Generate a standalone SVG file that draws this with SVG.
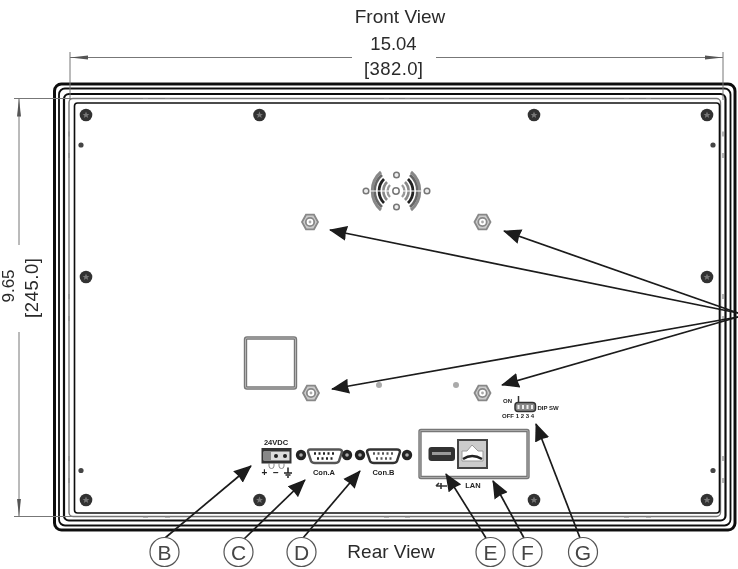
<svg xmlns="http://www.w3.org/2000/svg" width="738" height="569" viewBox="0 0 738 569">
<style>
text{font-family:"Liberation Sans",Arial,sans-serif;fill:#2a2a2a}
.lbl{font-size:19px}
.dim{font-size:18.500px}
.tiny{font-size:7.500px;font-weight:bold;fill:#222;text-anchor:middle}
.micro{font-size:6px;font-weight:bold;fill:#222;text-anchor:middle}
.f{fill:none;stroke:#111}
.g{fill:none;stroke:#777}
.dl{stroke:#777;stroke-width:1;fill:none}
.conn{stroke:#1a1a1a;stroke-width:1.700;fill:none;marker-end:url(#ah)}
.call circle{fill:#fff;stroke:#555;stroke-width:1.200}
.call text{font-size:21px;text-anchor:middle;fill:#444}
.tk{stroke:#888;stroke-width:1.200}
</style>
<defs>
<filter id="b" x="0" y="0" width="1" height="1" filterUnits="objectBoundingBox"><feGaussianBlur stdDeviation="0.55"/></filter>
<marker id="ah" markerUnits="userSpaceOnUse" markerWidth="20" markerHeight="16" viewBox="0 0 20 16" refX="17" refY="8" orient="auto"><path d="M0,0.500L18,8L0,15.500L1,8Z" fill="#1a1a1a"/></marker>
<marker id="dh" markerUnits="userSpaceOnUse" markerWidth="20" markerHeight="6" viewBox="0 0 20 6" refX="18" refY="3" orient="auto"><path d="M0,1L18,3L0,5Z" fill="#555"/></marker>
<g id="screw"><circle r="6.300" fill="#333"/><path d="M0,-3.500L1,-1L3.400,-1L1.500,.6L2.200,3L0,1.600L-2.200,3L-1.500,.6L-3.400,-1L-1,-1Z" fill="#777"/></g>
<g id="stand"><path d="M-8,0L-4,-7.300L4,-7.300L8,0L4,7.300L-4,7.300Z" fill="#ccc" stroke="#888" stroke-width="1.800"/><circle r="4.200" fill="#fff" stroke="#888" stroke-width="1.800"/><circle r="1.400" fill="#aaa"/></g>
<g id="port"><circle r="5.200" fill="#222"/><circle r="1.800" fill="#aaa"/></g>
<g id="hole"><circle r="2.800" fill="#eee" stroke="#777" stroke-width="1.500"/></g>
</defs>
<rect width="738" height="569" fill="#fff"/>
<g filter="url(#b)">
<g id="frame">
<rect class="f" x="54.500" y="84" width="680.500" height="446" rx="7" stroke-width="3"/>
<rect class="f" x="59" y="88.500" width="671.500" height="437" rx="6" stroke-width="1.800"/>
<rect class="f" x="64" y="94" width="661.500" height="426.500" rx="5" stroke-width="2.200"/>
<rect class="g" x="69" y="98.500" width="651.500" height="418" rx="4" stroke-width="1.400"/>
<rect class="f" x="74.500" y="103" width="645" height="410" rx="3" stroke="#333" stroke-width="1.600"/>
<path class="tk" d="M143,98.500h5M165,98.500h5M384,98.500h5M405,98.500h5M624,98.500h5M646,98.500h5M143,517h5M165,517h5M384,517h5M405,517h5M624,517h5M646,517h5M69,131.500v5M69,153v5M69,294v5M69,316v5M69,456v5M69,478v5M723,131.500v5M723,153v5M723,294v5M723,316v5M723,456v5M723,478v5"/>
</g>
<g id="dimensions">
<path class="dl" d="M70,52V100M723,52V100M14,98.500H72M14,516.500H72"/>
<path class="dl" d="M352,57.500H70" marker-end="url(#dh)"/>
<path class="dl" d="M436,57.500H723" marker-end="url(#dh)"/>
<path class="dl" d="M19,245V98.500" marker-end="url(#dh)"/>
<path class="dl" d="M19,332V516.500" marker-end="url(#dh)"/>
<text class="dim" x="393.500" y="50" text-anchor="middle">15.04</text>
<text class="dim" x="393.500" y="75" text-anchor="middle" textLength="59">[382.0]</text>
<text class="dim" transform="translate(14,286) rotate(-90)" text-anchor="middle" style="font-size:17px">9.65</text>
<text class="dim" transform="translate(38,288) rotate(-90)" text-anchor="middle" textLength="60">[245.0]</text>
</g>
<text id="title-front" class="lbl" x="400" y="23" text-anchor="middle">Front View</text>
<text id="title-rear" class="lbl" x="391" y="558" text-anchor="middle">Rear View</text>
<g id="screws">
<use href="#screw" x="86" y="115"/><use href="#screw" x="259.500" y="115"/><use href="#screw" x="534" y="115"/><use href="#screw" x="707" y="115"/>
<use href="#screw" x="86" y="277"/><use href="#screw" x="707" y="277"/>
<use href="#screw" x="86" y="500"/><use href="#screw" x="259.500" y="500"/><use href="#screw" x="534" y="500"/><use href="#screw" x="707" y="500"/>
<circle cx="81" cy="145" r="2.600" fill="#444"/><circle cx="713" cy="145" r="2.600" fill="#444"/><circle cx="81" cy="470.500" r="2.600" fill="#444"/><circle cx="713" cy="470.500" r="2.600" fill="#444"/>
<circle cx="379" cy="385" r="3" fill="#aaa"/><circle cx="456" cy="385" r="3" fill="#aaa"/>
</g>
<g id="standoffs">
<use href="#stand" x="310" y="222"/><use href="#stand" x="482.500" y="222"/><use href="#stand" x="311" y="393"/><use href="#stand" x="482.500" y="393"/>
</g>
<g id="speaker" fill="none" stroke="#555">
<path stroke-width="2.400" stroke="#999" d="M390,185A8.500,8.500 0 0 0 390,197M402,185A8.500,8.500 0 0 1 402,197"/>
<path stroke-width="2.600" stroke="#888" d="M387,182A13,13 0 0 0 387,200M405,182A13,13 0 0 1 405,200"/>
<path stroke-width="2.800" stroke="#222" d="M384,179A17,17 0 0 0 384,203M408,179A17,17 0 0 1 408,203"/>
<path stroke-width="2.800" stroke="#666" d="M382,175A21,21 0 0 0 382,207M410,175A21,21 0 0 1 410,207"/>
<path stroke-width="3" stroke="#888" d="M381,172A25,25 0 0 0 381,210M411,172A25,25 0 0 1 411,210"/>
<path stroke="#fff" stroke-width="1.200" d="M370,191H422"/>
<circle cx="396" cy="191" r="3.200" fill="#fff" stroke="#777" stroke-width="1.500"/>
<use href="#hole" x="396.500" y="175"/><use href="#hole" x="396.500" y="207"/><use href="#hole" x="366" y="191"/><use href="#hole" x="427" y="191"/>
</g>
<g id="square"><rect x="245.500" y="338" width="50" height="50" rx="1.500" fill="none" stroke="#777" stroke-width="3.400"/><rect x="245.500" y="338" width="50" height="50" rx="1.500" fill="none" stroke="#ddd" stroke-width=".6"/></g>
<g id="power">
<rect x="261.500" y="448" width="30" height="15.500" fill="#333"/>
<rect x="263.500" y="451.500" width="26" height="9" fill="#ddd"/>
<rect x="264" y="452" width="7" height="8" fill="#888"/>
<circle cx="276" cy="456" r="2" fill="#222"/><circle cx="285" cy="456" r="2" fill="#222"/>
<path d="M269,463v3a2.500,2.500 0 0 0 5,0v-3M279,463v3a2.500,2.500 0 0 0 5,0v-3" fill="none" stroke="#888"/>
<text class="tiny" x="276" y="445">24VDC</text>
<text class="tiny" x="264.500" y="476" style="font-size:10px">+</text>
<text class="tiny" x="276" y="476" style="font-size:10px">−</text>
<path d="M288,467.500V473M284,473H292M285.500,475H290.500M287,477H289" stroke="#222" stroke-width="1.500" fill="none"/>
</g>
<g id="con-a">
<use href="#port" x="301" y="455"/><use href="#port" x="347" y="455"/>
<path d="M310,449.500H339Q342,449.500 342,452L339,461Q338,463 335,463H315Q312,463 311,461L308,452Q308,449.500 310,449.500Z" fill="#fff" stroke="#555" stroke-width="2.400"/>
<path d="M314,453.500H336M317,458.500H333" stroke="#222" stroke-width="2.400" stroke-dasharray="2 2.500"/>
<text class="tiny" x="324" y="475">Con.A</text>
</g>
<g id="con-b">
<use href="#port" x="360" y="455"/><use href="#port" x="407" y="455"/>
<path d="M370,449.500H397Q400,449.500 400,452L397,461Q396,463 393,463H374Q371,463 370,461L367,452Q367,449.500 370,449.500Z" fill="#fff" stroke="#333" stroke-width="2.400"/>
<path d="M373,453.500H395M376,458.500H392" stroke="#555" stroke-width="2.400" stroke-dasharray="2 2.500"/>
<text class="tiny" x="383.500" y="475">Con.B</text>
</g>
<g id="lan">
<rect x="420" y="430.500" width="108" height="47" rx="1" fill="#fff" stroke="#777" stroke-width="3.400"/>
<rect x="420" y="430.500" width="108" height="47" rx="1" fill="none" stroke="#ccc" stroke-width=".6"/>
<rect x="428.500" y="447" width="26.500" height="14" rx="3" fill="#333"/>
<rect x="432" y="452" width="19" height="3" fill="#999"/>
<rect x="458" y="440" width="29" height="28" fill="#ccc" stroke="#444" stroke-width="2"/>
<path d="M472,445L478,451L483,451V461H462V451L467,451Z" fill="#fff" stroke="#999"/>
<path d="M463,459Q472,453 482,459" fill="none" stroke="#222" stroke-width="2.400"/>
<path d="M436,486H447M441,483V489M436,486L439,483" stroke="#333" stroke-width="1.600" fill="none"/>
<text class="tiny" x="473" y="488">LAN</text>
</g>
<g id="dip">
<rect x="515" y="402.500" width="20.500" height="9" rx="3" fill="#888" stroke="#333" stroke-width="1.500"/>
<path d="M518.500,405V409M523,405V409M527.500,405V409M532,405V409" stroke="#eee" stroke-width="2"/>
<path d="M518.500,402V396" stroke="#333" stroke-width="1.500"/>
<text class="micro" x="507.500" y="403">ON</text>
<text class="micro" x="548" y="409.500">DIP SW</text>
<text class="micro" x="518" y="417.500">OFF 1 2 3 4</text>
</g>
<g id="connectors">
<path class="conn" d="M738,313L330,230"/>
<path class="conn" d="M738,313L504,231"/>
<path class="conn" d="M738,317L332,389"/>
<path class="conn" d="M738,317L502,385"/>
<path class="conn" d="M165,538L251,466"/>
<path class="conn" d="M243,540L305,480"/>
<path class="conn" d="M303,538L360,471"/>
<path class="conn" d="M486,538L446,474"/>
<path class="conn" d="M524,538L493,481"/>
<path class="conn" d="M580,538L536,424"/>
</g>
<g id="callout-b" class="call"><circle cx="164.500" cy="552" r="14.500"/><text x="164.500" y="560">B</text></g>
<g id="callout-c" class="call"><circle cx="238.500" cy="552" r="14.500"/><text x="238.500" y="560">C</text></g>
<g id="callout-d" class="call"><circle cx="301.500" cy="552" r="14.500"/><text x="301.500" y="560">D</text></g>
<g id="callout-e" class="call"><circle cx="490.500" cy="552" r="14.500"/><text x="490.500" y="560">E</text></g>
<g id="callout-f" class="call"><circle cx="527.500" cy="552" r="14.500"/><text x="527.500" y="560">F</text></g>
<g id="callout-g" class="call"><circle cx="583" cy="552" r="14.500"/><text x="583" y="560">G</text></g>
</g>
</svg>
